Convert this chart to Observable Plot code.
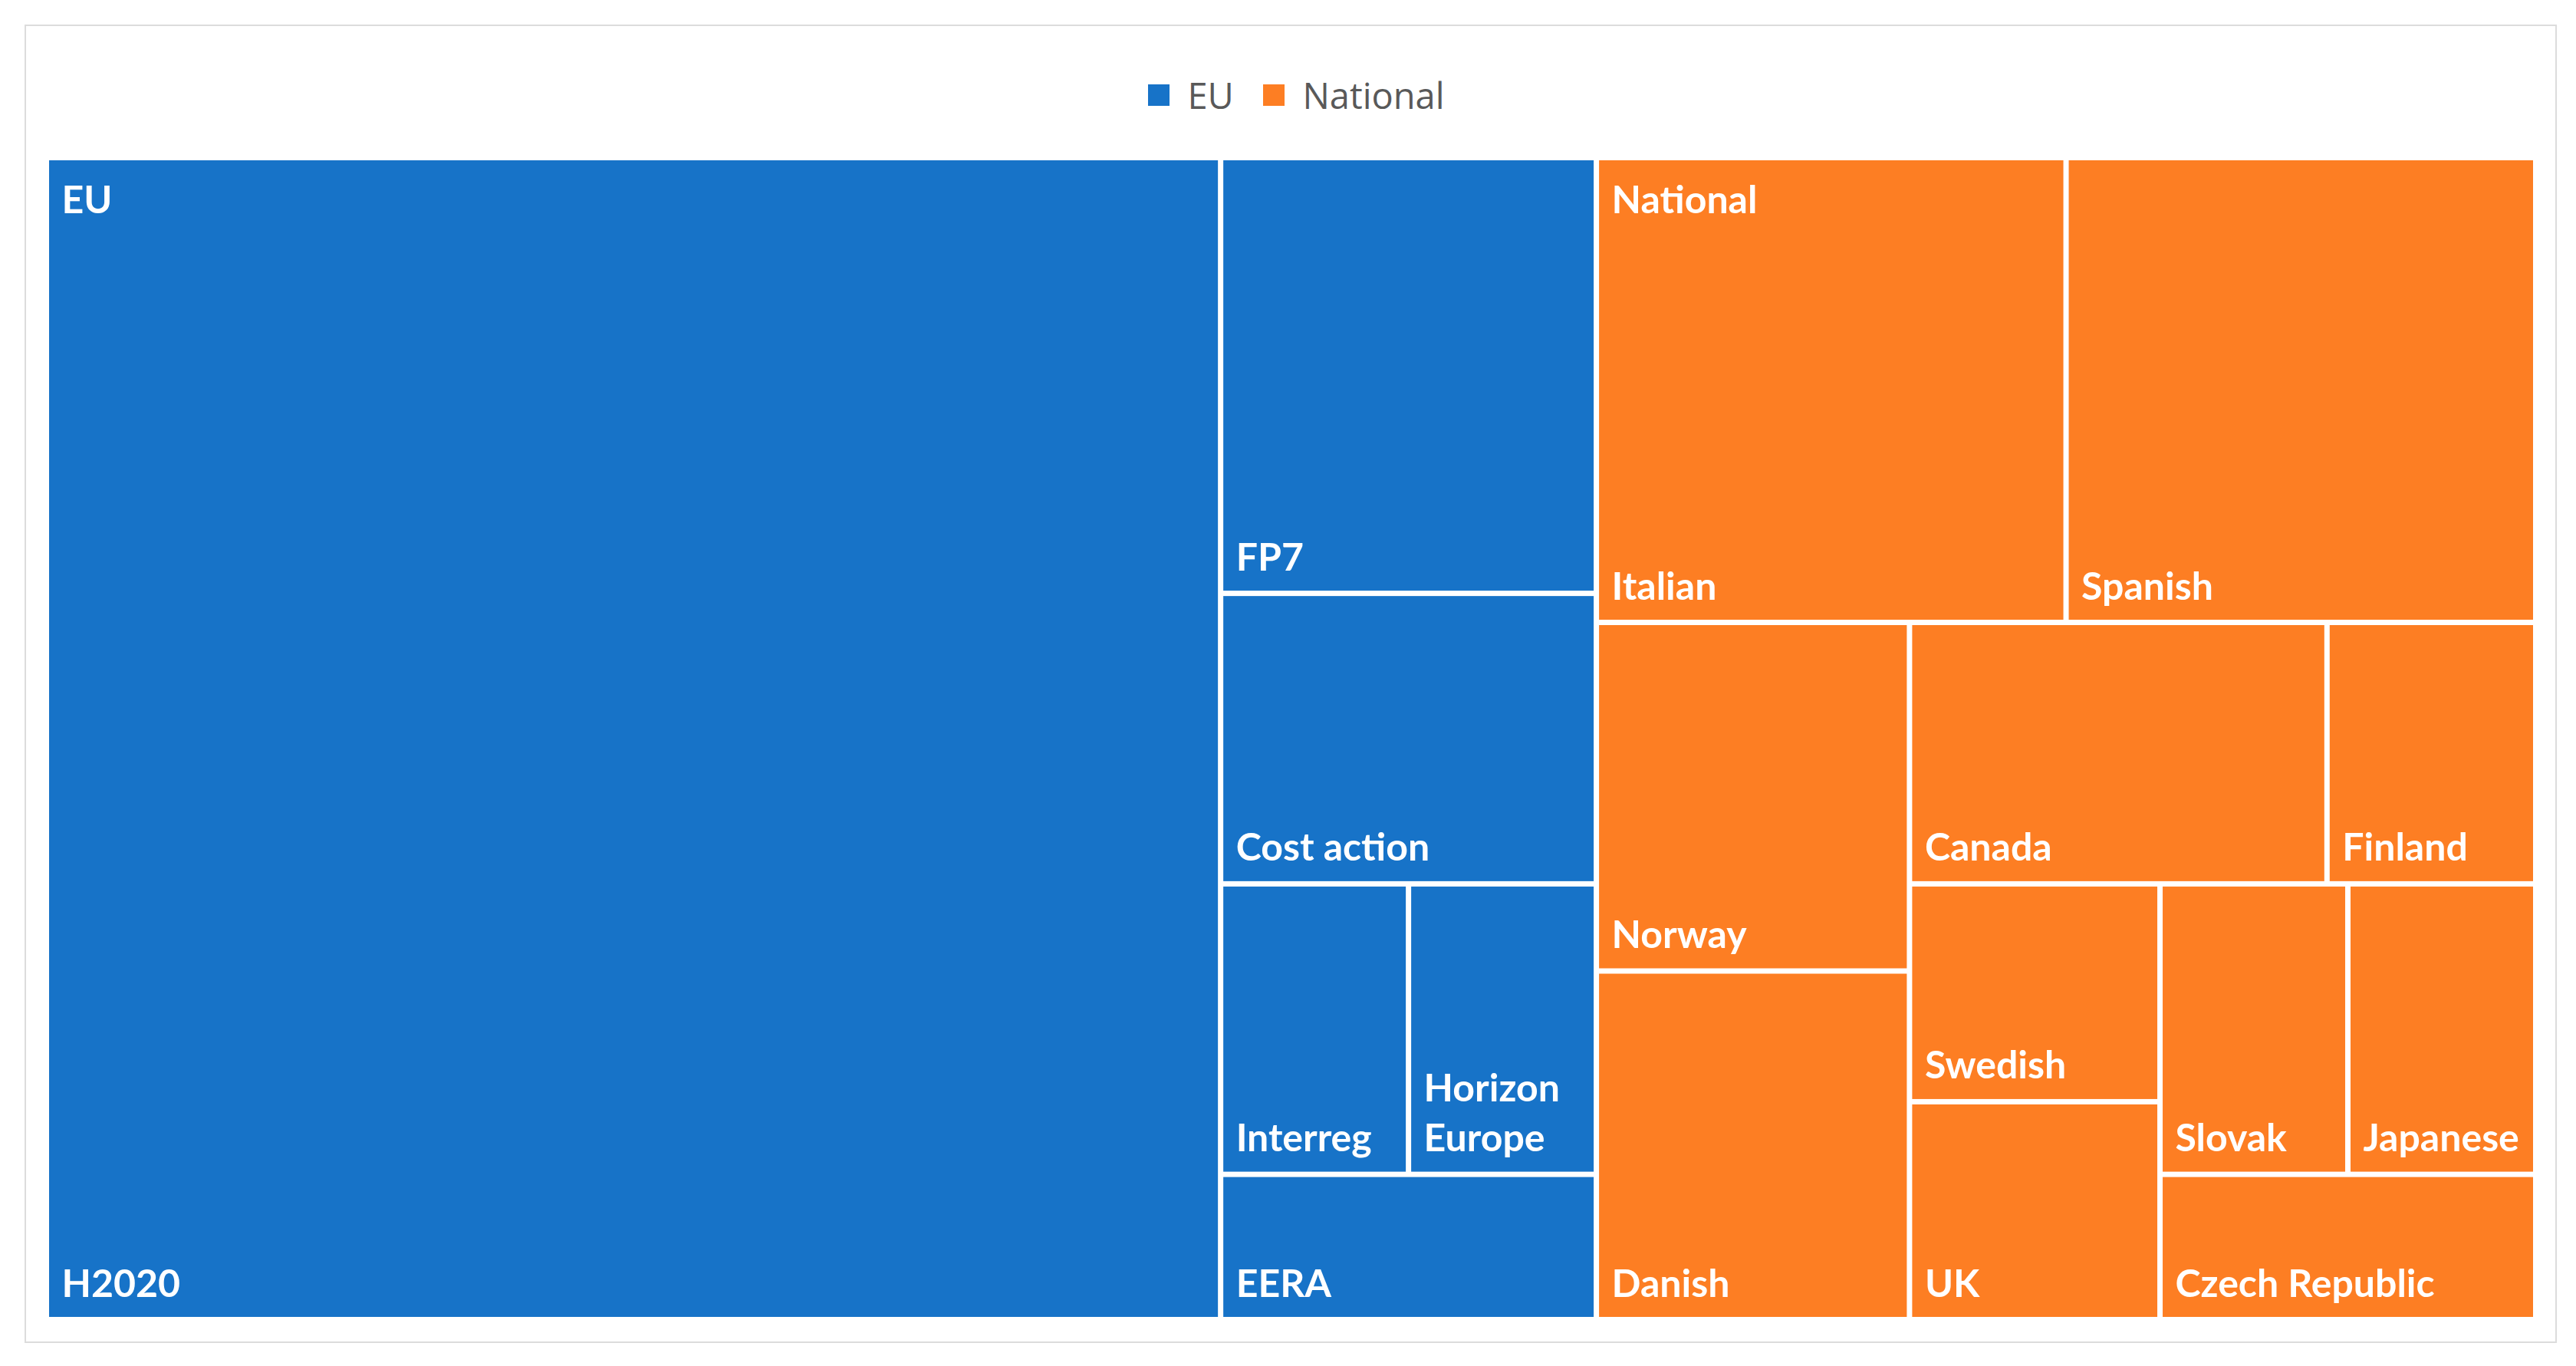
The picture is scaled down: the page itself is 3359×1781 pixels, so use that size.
<!DOCTYPE html>
<html>
<head>
<meta charset="utf-8">
<script src="https://cdn.jsdelivr.net/npm/d3@7"></script>
<script src="https://cdn.jsdelivr.net/npm/@observablehq/plot@0.6"></script>
<style>
  html, body { margin: 0; padding: 0; background: #ffffff; }
  #page { position: relative; width: 3359px; height: 1781px; overflow: hidden; }
  #legend { position: relative; height: 200px; }
  #legend > div { position: absolute; left: 1497px; top: 92px; width: max-content; margin: 0;
    font-family: "Open Sans", "Noto Sans", sans-serif; font-size: 47px; color: #595959; }
  #legend > div > span { margin-right: 38px; }
  #chart svg { display: block; background: transparent; }
  #frame { position: absolute; left: 32px; top: 32px; width: 3302px; height: 1719px;
    border: 2px solid #dcdcdc; box-sizing: border-box; pointer-events: none; }
</style>
</head>
<body>
<div id="page">
  <div id="legend"></div>
  <div id="chart"></div>
  <div id="frame"></div>
</div>
<script>
// ---- data ----
const groups = ["EU", "National"];
const euPrograms = ["H2020", "FP7", "Cost action", "Interreg", "Horizon Europe", "EERA"];
const euCounts = [25, 3, 2, 1, 1, 1];
const nationalPrograms = ["Italian", "Spanish", "Norway", "Danish", "Canada", "Finland",
  "Swedish", "UK", "Slovak", "Japanese", "Czech Republic"];
const nationalCounts = [4, 4, 2, 2, 2, 1, 1, 1, 1, 1, 1];

// ---- hierarchy & layout ----
const tree = {
  name: "root",
  children: [
    {name: groups[0], children: euPrograms.map((n, i) => ({name: n, value: euCounts[i]}))},
    {name: groups[1], children: nationalPrograms.map((n, i) => ({name: n, value: nationalCounts[i]}))}
  ]
};

const W = 3246, H = 1515;   // layout size in pixels (treemap area incl. half gaps)
const root = d3.hierarchy(tree).sum(d => d.value || 0);
d3.treemap().size([W, H]).tile(d3.treemapSquarify.ratio(1)).padding(0).round(false)(root);
const leaves = root.leaves().map(d => ({
  name: d.data.name, group: d.parent.data.name, value: d.value,
  x0: d.x0, x1: d.x1, y0: d.y0, y1: d.y1
}));
const groupNodes = root.children.map(d => ({name: d.data.name, x0: d.x0, x1: d.x1, y0: d.y0, y1: d.y1}));

const svgHeight = 1581;
const marginTop = 5.5;
const marginLeft = 60.5;
const labelFont = `Lato, "Open Sans", sans-serif`;

const colorScale = {domain: groups, range: ["#1773C8", "#FD7E23"]};

const plot = Plot.plot({
  width: 3359,
  height: svgHeight,
  marginLeft: marginLeft,
  marginRight: 3359 - marginLeft - W,
  marginTop: marginTop,
  marginBottom: svgHeight - marginTop - H,
  x: {domain: [0, W], range: [marginLeft, marginLeft + W], axis: null},
  y: {domain: [0, H], range: [marginTop, marginTop + H], axis: null},
  color: colorScale,
  style: {background: "transparent"},
  marks: [
    Plot.rect(leaves, {x1: "x0", x2: "x1", y1: "y0", y2: "y1", fill: "group", inset: 3.5}),
    Plot.text(leaves, {
      x: "x0", y: "y1",
      text: d => d.name === "Horizon Europe" ? "Horizon\nEurope" : d.name,
      textAnchor: "start", lineAnchor: "bottom", lineHeight: 1.3,
      dx: 19.5, dy: -30.5,
      fill: "white", fontSize: 50, fontWeight: "bold", fontFamily: labelFont
    }),
    Plot.text(groupNodes, {
      x: "x0", y: "y0", text: "name",
      textAnchor: "start", lineAnchor: "bottom",
      dx: 19.5, dy: 71.5,
      fill: "white", fontSize: 50, fontWeight: "bold", fontFamily: labelFont
    })
  ]
});

document.getElementById("chart").appendChild(plot);
const legend = Plot.legend({color: {...colorScale, type: "ordinal"}, swatchSize: 28});
document.getElementById("legend").appendChild(legend);
</script>
</body>
</html>
